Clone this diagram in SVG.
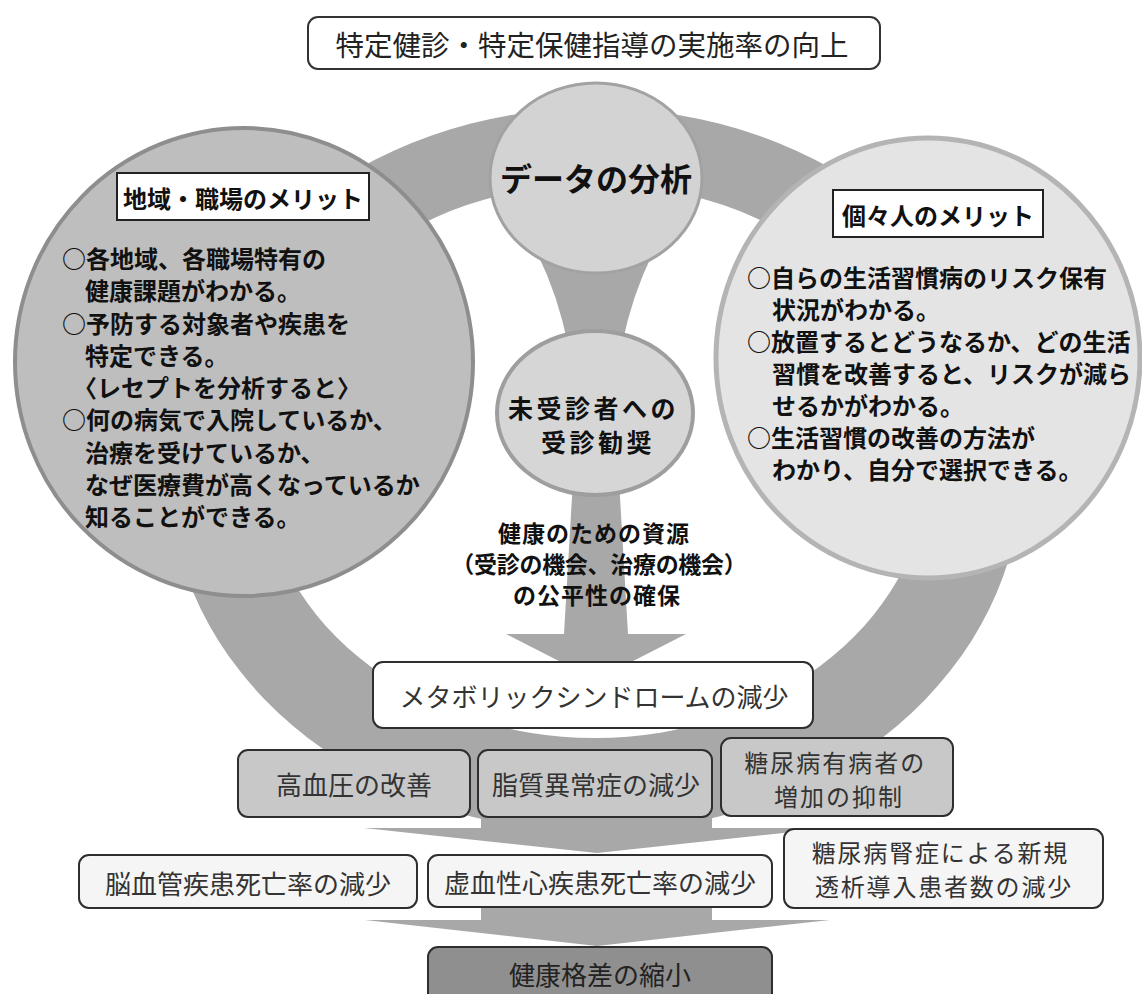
<svg xmlns="http://www.w3.org/2000/svg" width="1142" height="994" viewBox="0 0 1142 994">
<style>
text{font-family:"Noto Sans CJK JP","Noto Sans CJK SC",sans-serif;dominant-baseline:central;}
.b{font-weight:bold;fill:#111;}
.r{font-weight:normal;fill:#333;}
.band{fill:#a8a8a8;}
.box{stroke:#2e2e2e;stroke-width:2;}
.hdr{fill:#fff;stroke:#222;stroke-width:2;}
</style>
<rect width="1142" height="994" fill="#fff"/>

<g id="connectors">
  <path class="band" fill-rule="evenodd" d="M168,470 a427,362 0 1,0 854,0 a427,362 0 1,0 -854,0 Z M260,461 a335,277 0 1,0 670,0 a335,277 0 1,0 -670,0 Z"/>
  <path class="band" d="M528,236 Q556,285 568,345 L622,345 Q634,285 662,236 Z"/>
  <path class="band" d="M573,480 L619,480 L628,634 L686,634 L596,680 L506,634 L564,634 Z"/>
  <path class="band" d="M481,810 L712,810 L712,828 L830,828 L597,853 L364,828 L481,828 Z"/>
  <path class="band" d="M481,900 L712,900 L712,920 L830,920 L597,946 L365,920 L481,920 Z"/>
</g>

<g id="title">
  <rect x="308" y="17" width="572" height="52" rx="10" fill="#fff" stroke="#333" stroke-width="2"/>
  <text x="592" y="43" text-anchor="middle" font-size="28.5" class="r" style="fill:#222">特定健診・特定保健指導の実施率の向上</text>
</g>

<g id="left-merit">
  <ellipse cx="244" cy="362" rx="229" ry="234" fill="#bebebe" stroke="#8e8e8e" stroke-width="4"/>
  <rect class="hdr" x="117" y="173" width="252" height="47"/>
  <text x="243" y="197" text-anchor="middle" font-size="24" class="b">地域・職場のメリット</text>
  <text font-size="24" class="b">
    <tspan x="62" y="257">○各地域、各職場特有の</tspan>
    <tspan x="85" y="289">健康課題がわかる。</tspan>
    <tspan x="62" y="322">○予防する対象者や疾患を</tspan>
    <tspan x="85" y="354">特定できる。</tspan>
    <tspan x="73" y="386">〈レセプトを分析すると〉</tspan>
    <tspan x="62" y="418">○何の病気で入院しているか、</tspan>
    <tspan x="85" y="451">治療を受けているか、</tspan>
    <tspan x="85" y="483">なぜ医療費が高くなっているか</tspan>
    <tspan x="85" y="515">知ることができる。</tspan>
  </text>
</g>

<g id="right-merit">
  <ellipse cx="928" cy="358" rx="212" ry="220" fill="#e4e4e4" stroke="#b4b4b4" stroke-width="5"/>
  <rect class="hdr" x="833" y="190" width="210" height="47"/>
  <text x="938" y="214" text-anchor="middle" font-size="24" class="b">個々人のメリット</text>
  <text font-size="24" class="b">
    <tspan x="747" y="276">○自らの生活習慣病のリスク保有</tspan>
    <tspan x="772" y="308">状況がわかる。</tspan>
    <tspan x="747" y="340">○放置するとどうなるか、どの生活</tspan>
    <tspan x="772" y="372">習慣を改善すると、リスクが減ら</tspan>
    <tspan x="772" y="404">せるかがわかる。</tspan>
    <tspan x="747" y="436">○生活習慣の改善の方法が</tspan>
    <tspan x="772" y="468">わかり、自分で選択できる。</tspan>
  </text>
</g>

<g id="data-analysis">
  <ellipse cx="596" cy="178" rx="106" ry="95" fill="#d3d3d3" stroke="#a2a2a2" stroke-width="3"/>
  <text x="596" y="177" text-anchor="middle" font-size="32" class="b">データの分析</text>
</g>

<g id="encourage">
  <ellipse cx="595" cy="413" rx="98" ry="82" fill="#d6d6d6" stroke="#9e9e9e" stroke-width="4"/>
  <text text-anchor="middle" font-size="25" class="b" letter-spacing="3.5">
    <tspan x="598" y="407">未受診者への</tspan>
    <tspan x="598" y="441">受診勧奨</tspan>
  </text>
</g>

<g id="resources">
  <text text-anchor="middle" font-size="23" class="b" letter-spacing="1">
    <tspan x="597" y="532">健康のための資源</tspan>
    <tspan x="602" y="563" letter-spacing="-0.3">（受診の機会、治療の機会）</tspan>
    <tspan x="597" y="594">の公平性の確保</tspan>
  </text>
</g>

<g id="metabo">
  <rect class="box" x="373" y="662" width="440" height="66" rx="10" fill="#fff"/>
  <text x="594" y="695" text-anchor="middle" font-size="26" class="r">メタボリックシンドロームの減少</text>
</g>

<g id="hypertension">
  <rect class="box" x="238" y="750" width="232" height="67" rx="10" fill="#c8c8c8"/>
  <text x="354" y="783" text-anchor="middle" font-size="26" class="r">高血圧の改善</text>
</g>
<g id="lipid">
  <rect class="box" x="478" y="750" width="234" height="67" rx="10" fill="#c8c8c8"/>
  <text x="596" y="783" text-anchor="middle" font-size="26" class="r">脂質異常症の減少</text>
</g>
<g id="diabetes">
  <rect class="box" x="721" y="738" width="232" height="78" rx="10" fill="#c8c8c8"/>
  <text text-anchor="middle" font-size="24" class="r" letter-spacing="2">
    <tspan x="839" y="761">糖尿病有病者の</tspan>
    <tspan x="839" y="795">増加の抑制</tspan>
  </text>
</g>

<g id="cerebro">
  <rect class="box" x="79" y="855" width="338" height="53" rx="10" fill="#f5f5f5"/>
  <text x="248" y="882" text-anchor="middle" font-size="26" class="r">脳血管疾患死亡率の減少</text>
</g>
<g id="ischemic">
  <rect class="box" x="428" y="855" width="344" height="52" rx="10" fill="#f5f5f5"/>
  <text x="600" y="881" text-anchor="middle" font-size="26" class="r">虚血性心疾患死亡率の減少</text>
</g>
<g id="nephropathy">
  <rect class="box" x="784" y="829" width="319" height="79" rx="10" fill="#f5f5f5"/>
  <text text-anchor="middle" font-size="24" class="r" letter-spacing="1.8">
    <tspan x="944" y="851">糖尿病腎症による新規</tspan>
    <tspan x="944" y="885">透析導入患者数の減少</tspan>
  </text>
</g>

<g id="disparity">
  <rect class="box" x="428" y="947" width="344" height="60" rx="10" fill="#8f8f8f"/>
  <text x="600" y="973" text-anchor="middle" font-size="26" class="r" style="fill:#222">健康格差の縮小</text>
</g>
</svg>
